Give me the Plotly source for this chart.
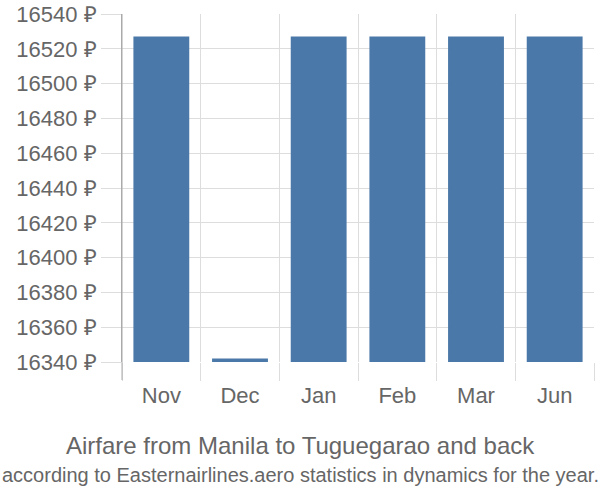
import plotly.graph_objects as go

months = ["Nov", "Dec", "Jan", "Feb", "Mar", "Jun"]
prices = [16527, 16342, 16527, 16527, 16527, 16527]
y_ticks = [16340, 16360, 16380, 16400, 16420, 16440, 16460, 16480, 16500, 16520, 16540]
y_tick_text = [f"{v} ₽" for v in y_ticks]
title = "Airfare from Manila to Tuguegarao and back"
subtitle = "according to Easternairlines.aero statistics in dynamics for the year."

PLOT_H = 348
fig = go.Figure()
fig.add_trace(go.Bar(x=months, y=prices, marker_color="#4a78a8", width=0.71,
                     marker_line_width=0))

fig.update_layout(
    width=600, height=500,
    margin=dict(l=122, r=6, t=14, b=138),
    paper_bgcolor="white", plot_bgcolor="white",
    font=dict(family="Liberation Sans, Arial, sans-serif", color="#666666", size=19),
    showlegend=False,
)
fig.update_yaxes(
    range=[16340, 16540], tickvals=y_ticks, ticktext=y_tick_text,
    showgrid=True, gridcolor="#dddddd", gridwidth=1,
    ticks="outside", ticklen=20, tickcolor="#dddddd",
    showline=True, linecolor="#aaaaaa", linewidth=1,
    zeroline=False, tickfont=dict(size=22, color="#666666"),
    automargin=False,
)
fig.update_xaxes(
    tickson="boundaries", showgrid=True, gridcolor="#dddddd", gridwidth=1,
    ticks="outside", ticklen=18, tickcolor="#dddddd",
    showline=False, tickfont=dict(size=22, color="#666666"),
    ticklabelstandoff=18, automargin=False,
)
# left axis line extension down through the tick area
fig.add_shape(type="line", xref="paper", yref="paper", x0=0, x1=0,
              y0=-18 / PLOT_H, y1=1, line=dict(color="#aaaaaa", width=1))
cx = (300 - 122) / 472
fig.add_annotation(text=title, xref="paper", yref="paper", x=cx, y=-0.241,
                   xanchor="center", yanchor="middle", showarrow=False,
                   font=dict(size=24, color="#666666"))
fig.add_annotation(text=subtitle, xref="paper", yref="paper", x=cx, y=-0.325,
                   xanchor="center", yanchor="middle", showarrow=False,
                   font=dict(size=20, color="#666666"))
fig.write_html("out.html")
